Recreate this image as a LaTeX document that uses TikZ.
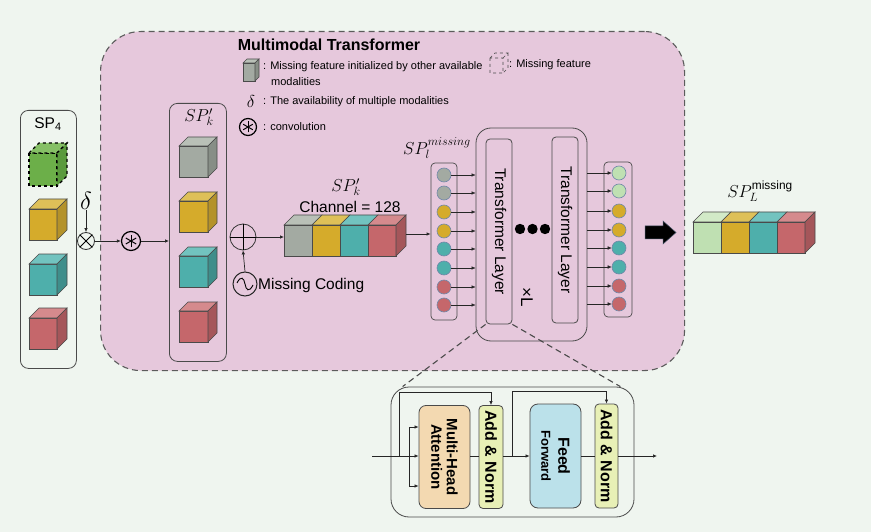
\documentclass[tikz,border=0pt]{standalone}
\usepackage{fontspec}
\setmainfont{Liberation Sans}
\usetikzlibrary{arrows.meta,calc}
\definecolor{bg}{HTML}{EFF5EF}
\definecolor{pinkbg}{HTML}{E6C8DC}
\definecolor{edge}{HTML}{4A4A4A}
\definecolor{gF}{HTML}{A3AAA2}\definecolor{gT}{HTML}{B9C0B7}\definecolor{gS}{HTML}{878E86}
\definecolor{yF}{HTML}{D5AB2B}\definecolor{yT}{HTML}{DEC058}\definecolor{yS}{HTML}{B4922A}
\definecolor{tF}{HTML}{4EAFAB}\definecolor{tT}{HTML}{72C3BF}\definecolor{tS}{HTML}{3F8E8B}
\definecolor{rF}{HTML}{C5676B}\definecolor{rT}{HTML}{D58A8D}\definecolor{rS}{HTML}{A5565A}
\definecolor{grF}{HTML}{6CAF49}\definecolor{grT}{HTML}{86C066}\definecolor{grS}{HTML}{5A9A3D}
\definecolor{lgF}{HTML}{BFE0B2}\definecolor{lgT}{HTML}{D2EAC7}\definecolor{lgS}{HTML}{A5C79A}
\definecolor{tokedge}{HTML}{7088A8}
\definecolor{peach}{HTML}{F3D9B1}
\definecolor{lime}{HTML}{E8F0B6}
\definecolor{sky}{HTML}{BBE1EA}
% x y w h d front top side
\newcommand\drawcube[8]{%
  \filldraw[cubeline,fill=#6] (#1,#2) rectangle ++(#3,#4);
  \filldraw[cubeline,fill=#7] (#1,#2) -- ++(#5,-#5) -- ++(#3,0) -- ++(-#5,#5) -- cycle;
  \filldraw[cubeline,fill=#8] (#1+#3,#2) -- ++(#5,-#5) -- ++(0,#4) -- ++(-#5,#5) -- cycle;
}
\newcommand\drawslab[7]{% x y w h d front top  (front + top only)
  \filldraw[cubeline,fill=#6] (#1,#2) rectangle ++(#3,#4);
  \filldraw[cubeline,fill=#7] (#1,#2) -- ++(#5,-#5) -- ++(#3,0) -- ++(-#5,#5) -- cycle;
}
\begin{document}
\begin{tikzpicture}[x=1pt,y=-1pt,
  cubeline/.style={draw=edge,line width=0.6pt},
  arr/.style={-{Latex[length=4pt,width=3.5pt]},line width=0.7pt,draw=black!85},
  ln/.style={line width=0.7pt,draw=black!85},
  tok/.style={circle,draw=tokedge,line width=0.6pt,minimum size=14pt,inner sep=0pt},
  colbox/.style={draw=edge,rounded corners=4pt,line width=0.7pt,inner sep=0pt},
  legend/.style={font=\fontsize{11}{13}\selectfont,anchor=west,inner sep=0pt},
  big/.style={font=\fontsize{15.5}{18}\selectfont,inner sep=0pt},
  blk/.style={draw=edge,line width=0.8pt,inner sep=0pt},
  btxt/.style={font=\fontsize{15}{15.5}\selectfont\bfseries,rotate=-90,align=center,inner sep=0pt},
]
\fill[bg] (0,0) rectangle (871,532);
\useasboundingbox (0,0) rectangle (871,532);

% ---------- big pink box
\node[draw=edge!90,dash pattern=on 6pt off 4pt,line width=1.1pt,fill=pinkbg,rounded corners=40pt,
      minimum width=584pt,minimum height=339pt,anchor=north west,inner sep=0pt] (mm) at (100,31) {};
\node[font=\fontsize{16}{18}\selectfont\bfseries,inner sep=0pt] (title) at (329,45) {Multimodal Transformer};

% ---------- legend
\drawcube{243}{63}{12}{18}{4}{gF}{gT}{gS}
\node[legend] (lg1) at (263,67) {: Missing feature initialized by other available};
\node[legend] (lg1b) at (271,82) {modalities};
\draw[edge,dashed,line width=0.6pt] (490,58) rectangle ++(13,15) (490,58) -- ++(5,-5) -- ++(13,0) -- ++(-5,5) (503,58) ++(5,-5) -- ++(0,15) -- ++(-5,5);
\node[legend] (lg2) at (509,65) {: Missing feature};
\node[font=\fontsize{19}{19}\selectfont,inner sep=0pt] (dl) at (251,102) {$\delta$};
\node[legend] (lg3) at (263,102) {: The availability of multiple modalities};
\node[circle,draw=black,line width=1.2pt,minimum size=17pt,inner sep=0pt] (cl) at (248,127) {};
\foreach \a in {90,30,-30} \draw[line width=1pt] (cl.center) ++(\a:5.5) -- ++(\a+180:11);
\node[legend] (lg4) at (263,127) {: convolution};

% ---------- SP4 column
\node[draw=edge,rounded corners=8pt,line width=0.8pt,fill=bg,minimum width=56pt,minimum height=258pt,anchor=north west,inner sep=0pt] (sp4) at (20,110) {};
\node[big] (sp4t) at (48,124) {SP\textsubscript{4}};
\filldraw[draw=black,dashed,line width=1.1pt,fill=grF] (29,153) rectangle ++(28,33);
\filldraw[draw=black,dashed,line width=1.1pt,fill=grT] (29,153) -- ++(10,-10) -- ++(28,0) -- ++(-10,10) -- cycle;
\filldraw[draw=black,dashed,line width=1.1pt,fill=grS] (57,153) -- ++(10,-10) -- ++(0,33) -- ++(-10,10) -- cycle;
\drawcube{29}{209}{28}{31}{10}{yF}{yT}{yS}
\drawcube{29}{264}{28}{31}{10}{tF}{tT}{tS}
\drawcube{29}{318}{28}{31}{10}{rF}{rT}{rS}

% ---------- delta, otimes, conv
\node[font=\fontsize{23}{23}\selectfont,inner sep=0pt] (dd) at (86,201) {$\delta$};
\node[circle,draw=black!80,line width=0.8pt,minimum size=17pt,inner sep=0pt,fill=bg] (ot) at (86,241) {};
\draw[line width=0.8pt] (ot.45) -- (ot.225) (ot.135) -- (ot.315);
\draw[arr] (dd.south) -- (ot.north);
\node[circle,draw=black,line width=1.2pt,minimum size=19pt,inner sep=0pt] (cv) at (131,241) {};
\foreach \a in {90,30,-30} \draw[line width=1pt] (cv.center) ++(\a:6) -- ++(\a+180:12);
\draw[arr] (ot.east) -- (cv.west);

% ---------- SP'_k column
\node[draw=edge,rounded corners=8pt,line width=0.8pt,minimum width=57pt,minimum height=258pt,anchor=north west,inner sep=0pt] (spk) at (169,103) {};
\draw[arr] (cv.east) -- (cv.east -| spk.west);
\node[big,font=\fontsize{17}{18}\selectfont] (spkt) at (199,117) {$SP_k'$};
\drawcube{179}{146}{29}{31}{9}{gF}{gT}{gS}
\drawcube{179}{201}{29}{31}{9}{yF}{yT}{yS}
\drawcube{179}{256}{29}{31}{9}{tF}{tT}{tS}
\drawcube{179}{311}{29}{31}{9}{rF}{rT}{rS}

% ---------- oplus & missing coding
\node[circle,draw=black!80,line width=0.8pt,minimum size=26pt,inner sep=0pt] (op) at (243,237) {};
\draw[line width=0.8pt] (op.north) -- (op.south) (op.east) -- (op.west);
\node[circle,draw=black!85,line width=1pt,minimum size=24pt,inner sep=0pt] (mc) at (245,284) {};
\draw[line width=0.9pt] ($(mc.center)+(-8,-1)$) .. controls ($(mc.center)+(-4,-9)$) and ($(mc.center)+(-1,-6)$) .. (mc.center) .. controls ($(mc.center)+(1,6)$) and ($(mc.center)+(4,9)$) .. ($(mc.center)+(8,1)$);
\draw[arr] (mc.north) -- (op.south);
\node[big,anchor=west] (mct) at (258,285) {Missing Coding};

% ---------- cube row
\coordinate (row) at (284,237);
\draw[arr] (op.east) -- (row);
\drawslab{284}{225}{28}{31}{10}{gF}{gT}
\drawslab{312}{225}{28}{31}{10}{yF}{yT}
\drawslab{340}{225}{28}{31}{10}{tF}{tT}
\drawcube{368}{225}{28}{31}{10}{rF}{rT}{rS}
\node[big,font=\fontsize{17}{18}\selectfont] (spk2) at (346,187) {$SP_k'$};
\node[big] (ch) at (350,207) {Channel = 128};
\coordinate (rowend) at (406,234);

% ---------- token column left
\node[colbox,minimum width=26pt,minimum height=157pt] (lcol) at (444,241.5) {};
\node[big,font=\fontsize{17}{18}\selectfont] (spl) at (437,148) {$SP_l^{missing}$};
\draw[arr] (rowend) -- (rowend -| lcol.west);
\foreach \y/\c [count=\i] in {175/gF,193/gF,212/yF,231/yF,249/tF,268/tF,287/rF,305/rF}
  \node[tok,fill=\c] (l\i) at (444,\y) {};

% ---------- transformer stack
\node[draw=edge,rounded corners=15pt,line width=0.8pt,minimum width=111pt,minimum height=213pt,inner sep=0pt] (tbox) at (531.5,234.5) {};
\node[draw=edge,rounded corners=4pt,line width=0.8pt,minimum width=26pt,minimum height=185pt,inner sep=0pt] (tl1) at (499,231.5) {};
\node[draw=edge,rounded corners=4pt,line width=0.8pt,minimum width=26pt,minimum height=186pt,inner sep=0pt] (tl2) at (565,230) {};
\node[font=\fontsize{15.5}{16}\selectfont,rotate=-90,inner sep=0pt] (tl1t) at (tl1.center) {Transformer Layer};
\node[font=\fontsize{15.5}{16}\selectfont,rotate=-90,inner sep=0pt] (tl2t) at (tl2.center) {Transformer Layer};
\foreach \x in {520,532.5,545} \fill[black] (\x,229) circle (5.2);
\node[font=\fontsize{17}{17}\selectfont,rotate=-90,inner sep=0pt] (xl) at (527,297) {×L};
\foreach \i in {1,...,8} \draw[arr,line width=0.5pt] (l\i.east) -- (l\i.east -| tbox.west);

% ---------- token column right
\node[colbox,minimum width=28pt,minimum height=155pt] (rcol) at (618,239.5) {};
\foreach \y/\c [count=\i] in {173/lgF,191/lgF,211/yF,230/yF,248/tF,267/tF,286/rF,304/rF}
  \node[tok,fill=\c] (r\i) at (619,\y) {};
\foreach \i in {1,...,8} \draw[arr,line width=0.5pt] (r\i.west -| tbox.east) -- (r\i.west);

% ---------- big arrow
\filldraw[fill=black,draw=tokedge!60!black,line width=0.5pt] (645,226) -- (663,226) -- (663,221) -- (676,232.5) -- (663,244) -- (663,239) -- (645,239) -- cycle;

% ---------- output row
\drawslab{693}{222}{28}{31}{10}{lgF}{lgT}
\drawslab{721}{222}{28}{31}{10}{yF}{yT}
\drawslab{749}{222}{28}{31}{10}{tF}{tT}
\drawcube{777}{222}{28}{31}{10}{rF}{rT}{rS}
\node[big,font=\fontsize{17}{18}\selectfont] (spL) at (760,191) {$SP_L^{\mathrm{missing}}$};

% ---------- bottom detail
\node[draw=edge,rounded corners=18pt,line width=0.8pt,minimum width=243pt,minimum height=130pt,inner sep=0pt] (bb) at (512.5,452) {};
\draw[edge,dash pattern=on 6pt off 4pt,line width=1.1pt] (tl1.south west) -- ($(bb.north west)+(12,0)$);
\draw[edge,dash pattern=on 6pt off 4pt,line width=1.1pt] (tl1.south east) -- ($(bb.north east)+(-14,0)$);
\node[blk,fill=peach,rounded corners=7pt,minimum width=51pt,minimum height=103pt] (mha) at (444.5,457) {};
\node[btxt] at (mha.center) {Multi-Head\\Attention};
\node[blk,fill=lime,rounded corners=4pt,minimum width=24pt,minimum height=103pt] (an1) at (491,457) {};
\node[btxt,font=\fontsize{16}{16}\selectfont\bfseries] at (an1.center) {Add \& Norm};
\node[blk,fill=sky,rounded corners=8pt,minimum width=51pt,minimum height=104pt] (ff) at (555.5,456) {};
\node[btxt,font=\fontsize{16}{17}\selectfont\bfseries] at (ff.center) {Feed\\{\fontsize{13}{14}\selectfont Forward}};
\node[blk,fill=lime,rounded corners=4pt,minimum width=23pt,minimum height=104pt] (an2) at (606.5,456) {};
\node[btxt,font=\fontsize{16}{16}\selectfont\bfseries] at (an2.center) {Add \& Norm};

\coordinate (in) at (372,456);
\coordinate (br1) at (399,456);
\coordinate (br1t) at (399,392);
\coordinate (q1) at (409,427);
\coordinate (q3) at (409,486);
\coordinate (br2) at (512,456);
\coordinate (br2t) at (512,391);
\coordinate (out) at (657,456);
\draw[arr] (in) -- (in -| mha.west);
\draw[arr] (br1) |- (an1.north |- br1t) -- (an1.north);
\draw[ln] (q1) -- (q3);
\draw[arr] (q1) -- (q1 -| mha.west);
\draw[arr] (q3) -- (q3 -| mha.west);
\draw[ln] (in -| mha.east) -- (in -| an1.west);
\draw[arr] (in -| an1.east) -- (in -| ff.west);
\draw[arr] (br2) |- (an2.north |- br2t) -- (an2.north);
\draw[ln] (in -| ff.east) -- (in -| an2.west);
\draw[arr] (in -| an2.east) -- (out);
\end{tikzpicture}
\end{document}
